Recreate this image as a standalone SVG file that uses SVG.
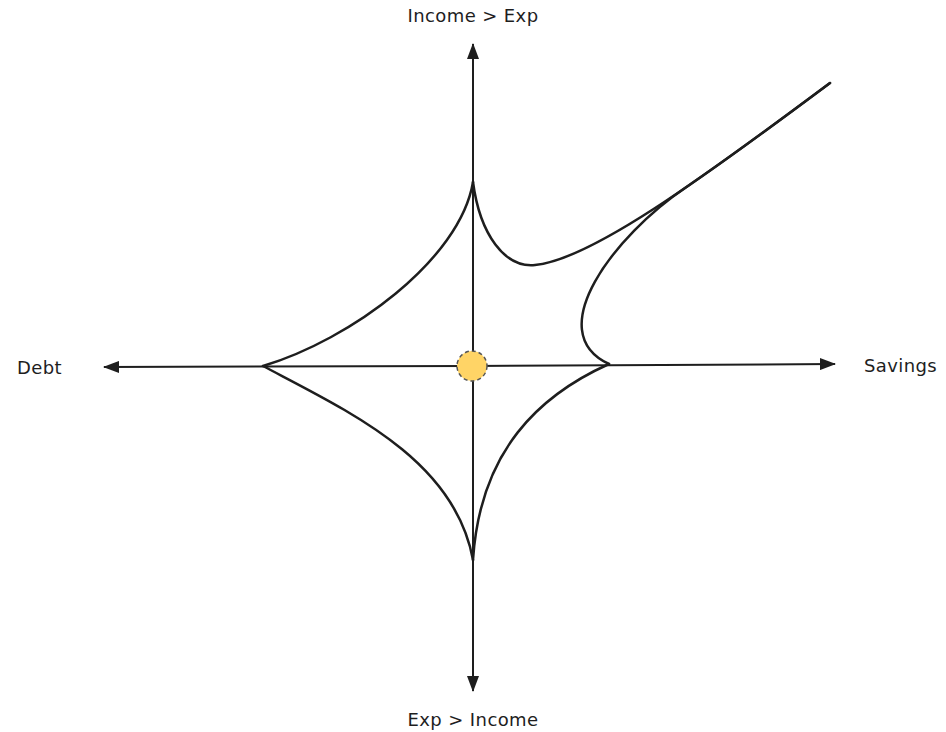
<svg xmlns="http://www.w3.org/2000/svg" width="946" height="732" viewBox="0 0 946 732">
<defs>
<style>
.axis{stroke:#1e1e1e;stroke-width:2;fill:none}
.curve{stroke:#1e1e1e;stroke-width:2.5;fill:none;stroke-linecap:round}
.lbl{font-family:"DejaVu Sans","Liberation Sans",sans-serif;font-size:18px;letter-spacing:0.4px;fill:#1e1e1e}
</style>
<marker id="arr" viewBox="0 0 16 12" refX="15" refY="6" markerWidth="16" markerHeight="12" markerUnits="userSpaceOnUse" orient="auto">
<path d="M0,0 L16,6 L0,12 Z" fill="#1e1e1e"/>
</marker>
</defs>
<g id="connectors">
<line class="axis" x1="473" y1="366" x2="473" y2="44" marker-end="url(#arr)"/>
<line class="axis" x1="473" y1="366" x2="473" y2="691" marker-end="url(#arr)"/>
<line class="axis" x1="472" y1="366" x2="104" y2="367" marker-end="url(#arr)"/>
<line class="axis" x1="472" y1="366" x2="835" y2="364" marker-end="url(#arr)"/>
</g>
<g id="star">
<path class="curve" d="M263,366 C350,340 460,260 473,182"/>
<path class="curve" d="M263,366 C350,412 455,460 473,560"/>
<path class="curve" d="M609,364 C540,395 480,450 473,560"/>
<path class="curve" d="M473,182 C480,235 505,268 535,265 C590,260 700,180 830,83"/>
<path class="curve" d="M609,364 C540,332 615,235 685.8,187.5 C729.2,157.9 778,121.8 830,83"/>
</g>
<g id="origin">
<circle cx="472" cy="366" r="15" fill="#FFD466" stroke="#555" stroke-width="1.5" stroke-dasharray="4 3"/>
</g>
<g id="label-top"><text class="lbl" x="473" y="22" text-anchor="middle">Income &gt; Exp</text></g>
<g id="label-bottom"><text class="lbl" x="473" y="726" text-anchor="middle">Exp &gt; Income</text></g>
<g id="label-left"><text class="lbl" x="17" y="374">Debt</text></g>
<g id="label-right"><text class="lbl" x="864" y="372">Savings</text></g>
</svg>
